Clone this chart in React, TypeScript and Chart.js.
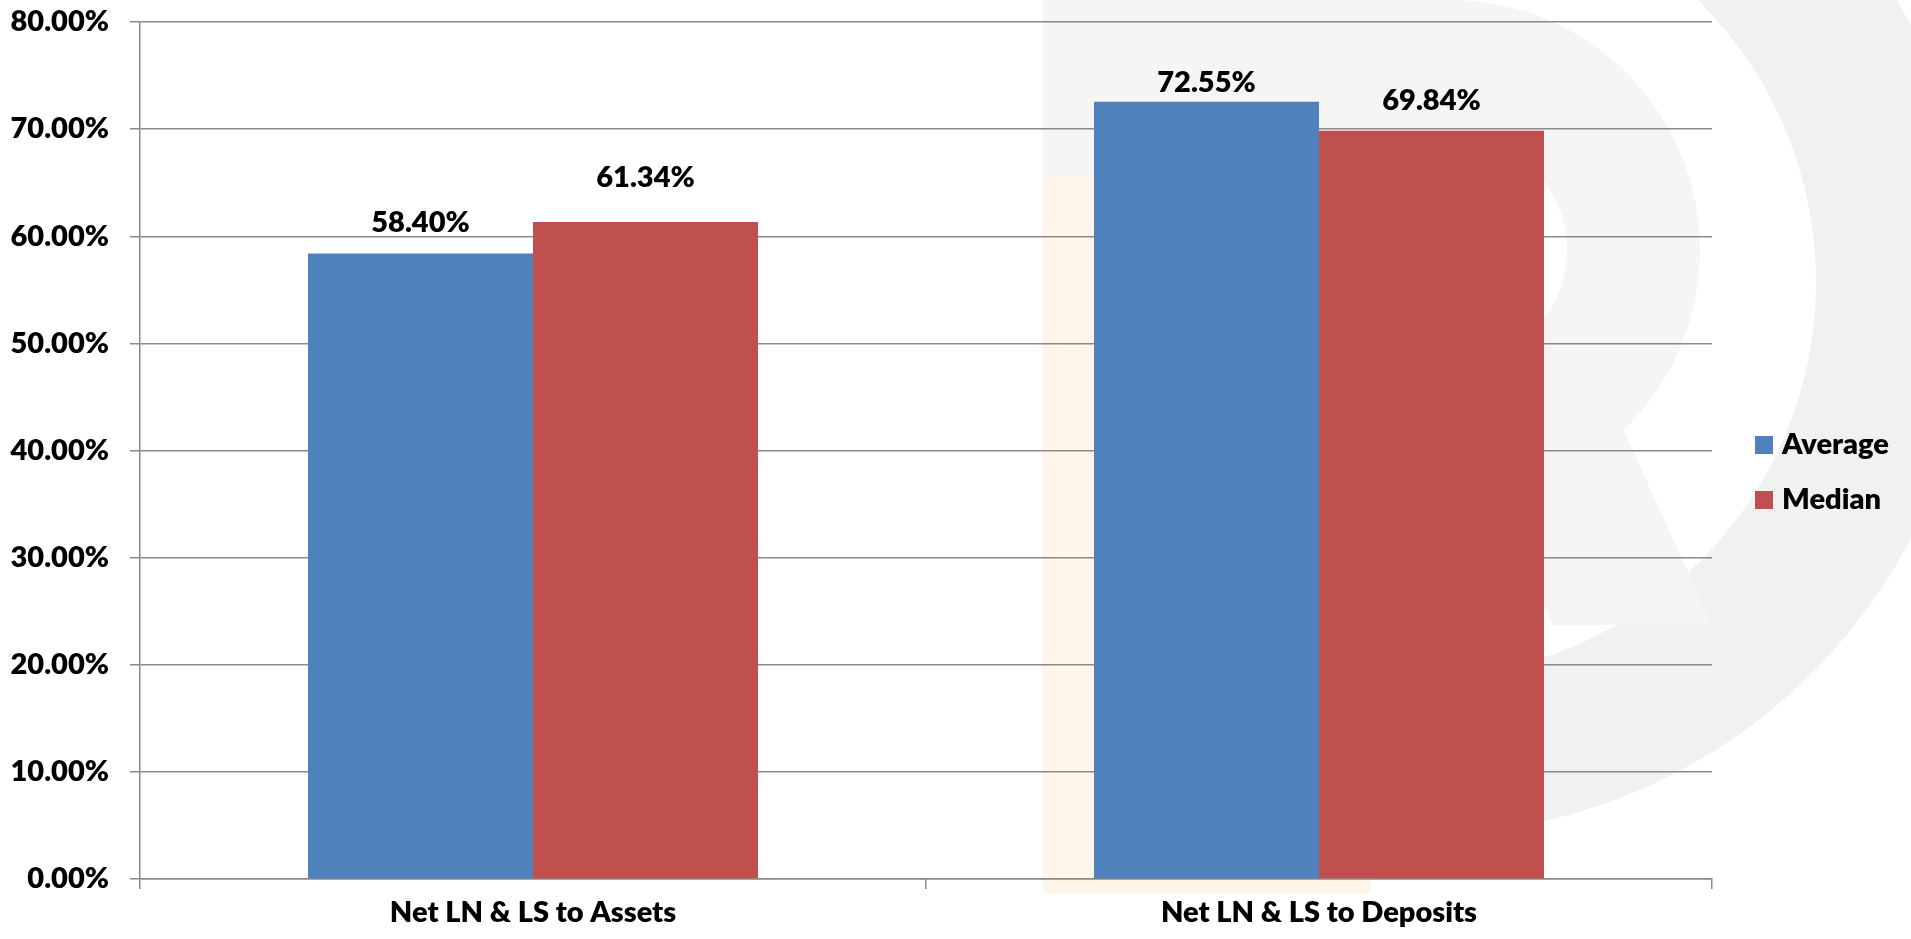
import React, { useEffect, useRef } from "react";
import { Chart, registerables } from "chart.js";

Chart.register(...registerables);

const categories: string[] = ["Net LN & LS to Assets", "Net LN & LS to Deposits"];
const seriesNames: string[] = ["Average", "Median"];
const averageValues: number[] = [58.4, 72.55];
const medianValues: number[] = [61.34, 69.84];
const yMin = 0;
const yMax = 80;
const yStep = 10;

// style only: vertical gap (px) between each bar top and its label baseline
const averageLabelGaps: number[] = [21, 10];
const medianLabelGaps: number[] = [35, 21];

const BLUE = "#4f81bd";
const RED = "#c0504d";
const GRID = "#8a8a8a";
const FONT_FAMILY = "Lato, 'Open Sans', sans-serif";
const FONT_SIZE = 29;
const FONT_WEIGHT = "800";

// faint background logo (decoration only)
const watermarkPlugin = {
  id: "watermark",
  beforeDraw(chart: any) {
    const ctx = chart.ctx;
    const cx = 1421;
    const cy = 282;
    ctx.save();
    ctx.beginPath();
    ctx.rect(1043, 0, chart.width - 1043, chart.height);
    ctx.clip();
    ctx.beginPath();
    ctx.arc(cx, cy, 553, 0, Math.PI * 2);
    ctx.arc(cx, cy, 395, 0, Math.PI * 2, true);
    ctx.fillStyle = "#f0f1f3";
    ctx.fill();
    ctx.fillStyle = "#f5f5f6";
    ctx.beginPath();
    ctx.moveTo(1043, 0);
    ctx.lineTo(1450, 0);
    ctx.arc(1450, 250, 250, -Math.PI / 2, Math.PI / 2);
    ctx.lineTo(1043, 500);
    ctx.closePath();
    ctx.moveTo(1193, 133);
    ctx.lineTo(1193, 367);
    ctx.lineTo(1450, 367);
    ctx.arc(1450, 250, 117, Math.PI / 2, -Math.PI / 2, true);
    ctx.closePath();
    ctx.fill("evenodd");
    ctx.fillRect(1043, 500, 150, 125);
    ctx.beginPath();
    ctx.moveTo(1450, 398);
    ctx.lineTo(1609, 398);
    ctx.lineTo(1712, 625);
    ctx.lineTo(1553, 625);
    ctx.closePath();
    ctx.fill();
    ctx.fillStyle = "#fff6e9";
    ctx.fillRect(1043, 175, 328, 718);
    ctx.restore();
  },
};

const labelsPlugin = {
  id: "valueLabels",
  afterDatasetsDraw(chart: any) {
    const ctx = chart.ctx;
    const gaps = [averageLabelGaps, medianLabelGaps];
    ctx.save();
    ctx.font = `${FONT_WEIGHT} ${FONT_SIZE}px ${FONT_FAMILY}`;
    ctx.fillStyle = "#000";
    ctx.textAlign = "center";
    ctx.textBaseline = "alphabetic";
    chart.data.datasets.forEach((ds: any, di: number) => {
      const meta = chart.getDatasetMeta(di);
      meta.data.forEach((el: any, i: number) => {
        const v = ds.data[i] as number;
        ctx.fillText(v.toFixed(2) + "%", el.x, el.y - gaps[di][i]);
      });
    });
    ctx.restore();
  },
};

const legendPlugin = {
  id: "sideLegend",
  afterDraw(chart: any) {
    const ctx = chart.ctx;
    const area = chart.chartArea;
    const boxX = area.right + 43;
    const centerY = chart.height / 2 + 3;
    const spacing = 55;
    const n = chart.data.datasets.length;
    ctx.save();
    ctx.font = `${FONT_WEIGHT} ${FONT_SIZE}px ${FONT_FAMILY}`;
    ctx.textAlign = "left";
    ctx.textBaseline = "middle";
    chart.data.datasets.forEach((ds: any, i: number) => {
      const cyy = centerY + (i - (n - 1) / 2) * spacing;
      ctx.fillStyle = ds.backgroundColor;
      ctx.fillRect(boxX, cyy - 9, 18, 18);
      ctx.fillStyle = "#000";
      ctx.fillText(ds.label, boxX + 27, cyy);
    });
    ctx.restore();
  },
};

export default function App() {
  const canvasRef = useRef<HTMLCanvasElement | null>(null);

  useEffect(() => {
    document.body.style.margin = "0";
    const canvas = canvasRef.current;
    if (!canvas) return;
    const chart = new Chart(canvas, {
      type: "bar",
      data: {
        labels: categories,
        datasets: [
          {
            label: seriesNames[0],
            data: averageValues,
            backgroundColor: BLUE,
            borderWidth: 0,
            categoryPercentage: 0.5725,
            barPercentage: 1.0,
          },
          {
            label: seriesNames[1],
            data: medianValues,
            backgroundColor: RED,
            borderWidth: 0,
            categoryPercentage: 0.5725,
            barPercentage: 1.0,
          },
        ],
      },
      options: {
        animation: false,
        responsive: true,
        maintainAspectRatio: false,
        layout: { padding: { left: 0, right: 199, top: 22, bottom: 0 } },
        plugins: {
          legend: { display: false },
          tooltip: { enabled: false },
        },
        scales: {
          x: {
            afterFit: (scale: any) => {
              scale.height = 60;
              scale.paddingLeft = 0;
              scale.paddingRight = 0;
            },
            grid: {
              display: true,
              drawOnChartArea: false,
              drawTicks: true,
              tickLength: 10,
              color: GRID,
              lineWidth: 1.5,
              offset: true,
            },
            border: { display: true, color: GRID, width: 1.5 },
            ticks: {
              color: "#000",
              padding: 6,
              font: { family: FONT_FAMILY, size: FONT_SIZE, weight: FONT_WEIGHT },
            },
          },
          y: {
            min: yMin,
            max: yMax,
            afterFit: (scale: any) => {
              scale.width = 140;
              scale.paddingTop = 0;
              scale.paddingBottom = 0;
            },
            grid: {
              color: GRID,
              lineWidth: 1.5,
              tickLength: 10,
              drawTicks: true,
            },
            border: { display: true, color: GRID, width: 1.5 },
            ticks: {
              stepSize: yStep,
              padding: 21,
              color: "#000",
              font: { family: FONT_FAMILY, size: FONT_SIZE, weight: FONT_WEIGHT },
              callback: (v: any) => Number(v).toFixed(2) + "%",
            },
          },
        },
      },
      plugins: [watermarkPlugin, labelsPlugin, legendPlugin],
    });
    return () => chart.destroy();
  }, []);

  return (
    <div style={{ position: "fixed", left: 0, top: 0, width: "1911px", height: "939px", background: "#fff" }}>
      <canvas ref={canvasRef} />
    </div>
  );
}
